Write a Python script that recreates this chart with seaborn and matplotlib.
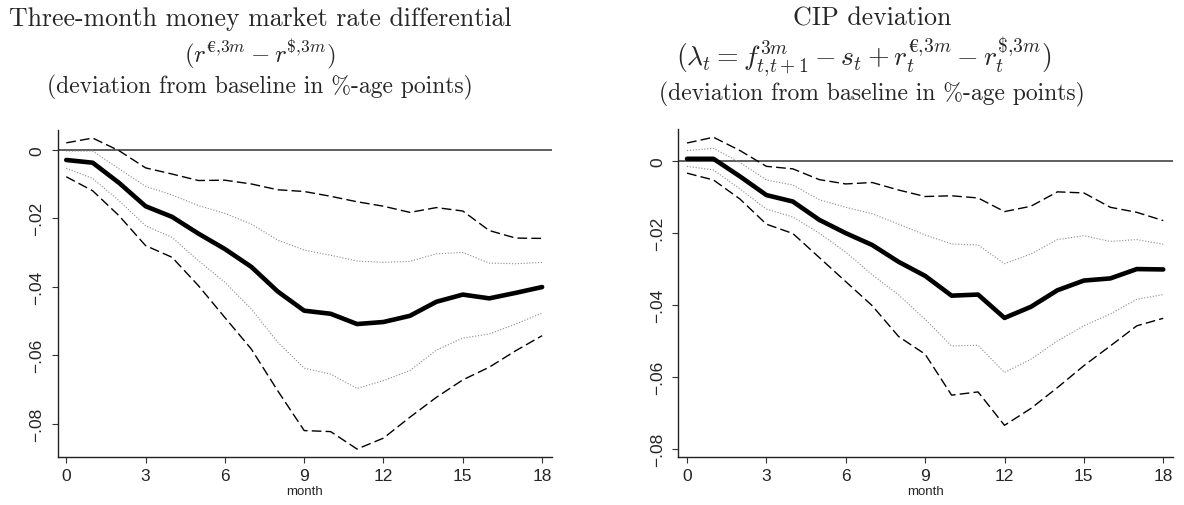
import numpy as np
import pandas as pd
import matplotlib
matplotlib.use("Agg")
import matplotlib.pyplot as plt
import seaborn as sns

# Impulse responses (deviation from baseline, %-age points) over 18 months
months = list(range(19))

rate_irf = [-0.0030, -0.0038, -0.0097, -0.0165, -0.0196, -0.0245, -0.0290, -0.0342, -0.0414, -0.0470,
            -0.0479, -0.0509, -0.0503, -0.0485, -0.0444, -0.0423, -0.0434, -0.0418, -0.0401]
rate_hi90 = [0.0020, 0.0034, -0.0003, -0.0053, -0.0071, -0.0090, -0.0089, -0.0100, -0.0117, -0.0122,
             -0.0136, -0.0152, -0.0165, -0.0183, -0.0169, -0.0179, -0.0236, -0.0258, -0.0259]
rate_hi68 = [-0.0004, -0.0004, -0.0056, -0.0107, -0.0132, -0.0163, -0.0186, -0.0217, -0.0264, -0.0293,
             -0.0308, -0.0325, -0.0329, -0.0326, -0.0304, -0.0300, -0.0331, -0.0333, -0.0329]
rate_lo68 = [-0.0054, -0.0084, -0.0149, -0.0222, -0.0256, -0.0324, -0.0387, -0.0465, -0.0562, -0.0638,
             -0.0655, -0.0697, -0.0674, -0.0645, -0.0585, -0.0550, -0.0538, -0.0509, -0.0477]
rate_lo90 = [-0.0079, -0.0120, -0.0193, -0.0280, -0.0314, -0.0397, -0.0490, -0.0582, -0.0704, -0.0820,
             -0.0823, -0.0874, -0.0842, -0.0781, -0.0723, -0.0672, -0.0635, -0.0587, -0.0543]

cip_irf = [0.0007, 0.0007, -0.0042, -0.0094, -0.0112, -0.0163, -0.0200, -0.0233, -0.0280, -0.0319,
           -0.0374, -0.0371, -0.0436, -0.0405, -0.0359, -0.0332, -0.0326, -0.0300, -0.0301]
cip_hi90 = [0.0051, 0.0067, 0.0030, -0.0014, -0.0021, -0.0051, -0.0063, -0.0059, -0.0080, -0.0098,
            -0.0096, -0.0102, -0.0140, -0.0125, -0.0085, -0.0088, -0.0128, -0.0142, -0.0165]
cip_hi68 = [0.0030, 0.0036, -0.0003, -0.0052, -0.0066, -0.0107, -0.0128, -0.0146, -0.0175, -0.0205,
            -0.0230, -0.0233, -0.0285, -0.0258, -0.0218, -0.0207, -0.0223, -0.0218, -0.0231]
cip_lo68 = [-0.0014, -0.0024, -0.0077, -0.0133, -0.0155, -0.0200, -0.0253, -0.0316, -0.0372, -0.0440,
            -0.0514, -0.0512, -0.0588, -0.0551, -0.0500, -0.0458, -0.0425, -0.0384, -0.0371]
cip_lo90 = [-0.0033, -0.0052, -0.0105, -0.0175, -0.0201, -0.0268, -0.0335, -0.0402, -0.0488, -0.0537,
            -0.0651, -0.0642, -0.0735, -0.0688, -0.0630, -0.0569, -0.0514, -0.0458, -0.0437]

x_ticks = [0, 3, 6, 9, 12, 15, 18]
y_ticks = [-0.08, -0.06, -0.04, -0.02, 0.0]
y_tick_labels = ["\u2212.08", "\u2212.06", "\u2212.04", "\u2212.02", "0"]

rate_titles = ["Three-month money market rate differential",
               r"$(r^{\mathbf{€}{,}3m} - r^{\${,}3m})$",
               "(deviation from baseline in %-age points)"]
cip_titles = ["CIP deviation",
              r"$(\lambda_t = f^{3m}_{t{,}t+1} - s_t + r^{\mathbf{€}{,}3m}_t - r^{\${,}3m}_t)$",
              "(deviation from baseline in %-age points)"]

sns.set_style("white")
plt.rcParams["font.family"] = ["Liberation Sans", "DejaVu Sans"]
plt.rcParams["mathtext.fontset"] = "cm"

fig = plt.figure(figsize=(11.84, 5.06), dpi=100)
ax_rate = fig.add_axes([0.0487, 0.0943, 0.4172, 0.6474])
ax_cip = fig.add_axes([0.5729, 0.0943, 0.4176, 0.6488])


def draw_panel(ax, irf, hi90, hi68, lo68, lo90, xlim, ylim):
    df = pd.DataFrame({"month": months, "irf": irf, "hi90": hi90, "hi68": hi68,
                       "lo68": lo68, "lo90": lo90})
    ax.axhline(0, color="#333333", lw=1.1, zorder=1)
    for col in ["hi90", "lo90"]:
        sns.lineplot(data=df, x="month", y=col, ax=ax, color="black", lw=1.0,
                     linestyle=(0, (7, 3)), zorder=2)
    for col in ["hi68", "lo68"]:
        sns.lineplot(data=df, x="month", y=col, ax=ax, color="#8a8a8a", lw=0.8,
                     linestyle=(0, (1, 1.6)), zorder=2)
    sns.lineplot(data=df, x="month", y="irf", ax=ax, color="black", lw=3.3,
                 solid_joinstyle="round", solid_capstyle="round", zorder=3)
    ax.set_xlim(*xlim)
    ax.set_ylim(*ylim)
    ax.set_xticks(x_ticks)
    ax.set_xticklabels([str(t) for t in x_ticks], fontsize=12.5)
    ax.set_yticks(y_ticks)
    ax.set_yticklabels(y_tick_labels, fontsize=12.5, rotation=90, va="center")
    ax.set_xlabel("month", fontsize=9.5, labelpad=2)
    ax.set_ylabel("")
    ax.tick_params(axis="both", which="major", direction="out", length=4.5, width=0.8,
                   color="#333333", bottom=True, left=True)
    ax.tick_params(axis="x", pad=3)
    ax.tick_params(axis="y", pad=5)
    for side in ["top", "right"]:
        ax.spines[side].set_visible(False)
    for side in ["left", "bottom"]:
        ax.spines[side].set_color("#222222")
        ax.spines[side].set_linewidth(1.0)
    ax.set_facecolor("white")


draw_panel(ax_rate, rate_irf, rate_hi90, rate_hi68, rate_lo68, rate_lo90,
           (-0.325, 18.36), (-0.0898, 0.00584))
draw_panel(ax_cip, cip_irf, cip_hi90, cip_hi68, cip_lo68, cip_lo90,
           (-0.33, 18.36), (-0.0824, 0.0090))

title_specs = [
    ([260, 260, 260], rate_titles, [18.6, 18.0, 17.0], [26, 62, 93]),
    ([872, 864, 872], cip_titles, [18.6, 20.0, 17.0], [26, 66, 100]),
]
for xs, lines, sizes, bases in title_specs:
    for x_px, txt, size, base_px in zip(xs, lines, sizes, bases):
        fig.text(x_px / 1184, 1 - base_px / 506, txt, fontsize=size, family="cmr10",
                 ha="center", va="baseline")

fig.savefig("out.png", dpi=100, facecolor="white")
